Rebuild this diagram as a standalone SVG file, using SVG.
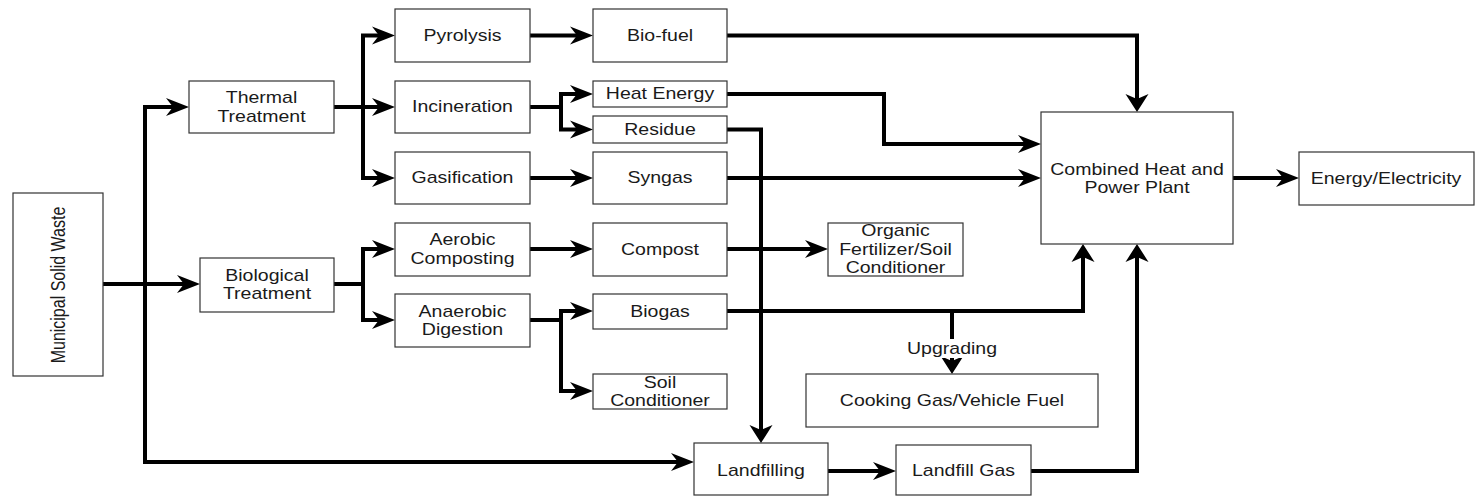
<svg xmlns="http://www.w3.org/2000/svg" width="1475" height="497" viewBox="0 0 1475 497">
<style>
.box{fill:#fff;stroke:#333;stroke-width:1.2}
.t{font-family:"Liberation Sans",Arial,sans-serif;font-size:16px;fill:#1a1a1a;text-anchor:middle;dominant-baseline:central}
.c{fill:none;stroke:#000;stroke-width:4}
.a{marker-end:url(#arrH)}
.v{marker-end:url(#arrV)}
</style>
<defs>
<marker id="arrH" viewBox="-12 -10 25 20" markerWidth="25" markerHeight="20" refX="0" refY="0" markerUnits="userSpaceOnUse" orient="auto">
<path d="M12,0 L-11,-9 L-4,0 L-11,9 Z" fill="#000"/>
</marker>
<marker id="arrV" viewBox="-8 -12 21 24" markerWidth="21" markerHeight="24" refX="0" refY="0" markerUnits="userSpaceOnUse" orient="auto">
<path d="M12,0 L-6,-11.5 L-1,0 L-6,11.5 Z" fill="#000"/>
</marker>
</defs>
<rect width="1475" height="497" fill="#fff"/>
<g id="connectors">
<path class="c a" d="M103,284 H188"/>
<path class="c a" d="M145,284 V107 H177"/>
<path class="c a" d="M145,284 V462 H682"/>
<path class="c" d="M334,107 H363"/>
<path class="c a" d="M363,107 V35.5 H383"/>
<path class="c a" d="M363,107 H383"/>
<path class="c a" d="M363,107 V178 H383"/>
<path class="c a" d="M334,284 H363 V249 H383"/>
<path class="c a" d="M363,284 V320 H383"/>
<path class="c a" d="M530,35.5 H581"/>
<path class="c a" d="M530,107 H561 V94 H581"/>
<path class="c a" d="M561,107 V129.5 H581"/>
<path class="c a" d="M530,178 H581"/>
<path class="c a" d="M530,249 H581"/>
<path class="c a" d="M530,320 H561 V311 H581"/>
<path class="c a" d="M561,320 V391 H581"/>
<path class="c v" d="M727,35.5 H1137 V100"/>
<path class="c a" d="M727,94 H884 V144 H1029"/>
<path class="c a" d="M727,178 H1029"/>
<path class="c v" d="M727,129.5 H761 V431"/>
<path class="c a" d="M727,249 H816"/>
<path class="c v" d="M727,311 H1083 V256"/>
<path class="c v" d="M952,311 V362"/>
<rect x="905" y="339" width="94" height="19" fill="#fff"/>
<text class="t" transform="translate(952,349) scale(1.22,1)">Upgrading</text>
<path class="c a" d="M828,471 H884"/>
<path class="c v" d="M1031,471 H1137 V256"/>
<path class="c a" d="M1233,178 H1287"/>
</g>
<g id="msw"><rect class="box" x="13" y="193" width="90" height="183"/><text class="t" transform="translate(58,285) scale(1.22,1) rotate(-90)">Municipal Solid Waste</text></g>
<g id="thermal"><rect class="box" x="189" y="81" width="145" height="52"/><text class="t" transform="translate(261.5,98) scale(1.22,1)">Thermal</text><text class="t" transform="translate(261.5,117) scale(1.22,1)">Treatment</text></g>
<g id="biological"><rect class="box" x="200" y="258" width="134" height="54"/><text class="t" transform="translate(267,276) scale(1.22,1)">Biological</text><text class="t" transform="translate(267,294) scale(1.22,1)">Treatment</text></g>
<g id="pyrolysis"><rect class="box" x="395" y="9" width="135" height="53"/><text class="t" transform="translate(462.5,35.5) scale(1.22,1)">Pyrolysis</text></g>
<g id="incineration"><rect class="box" x="395" y="81" width="135" height="52"/><text class="t" transform="translate(462.5,107) scale(1.22,1)">Incineration</text></g>
<g id="gasification"><rect class="box" x="395" y="152" width="135" height="52"/><text class="t" transform="translate(462.5,178) scale(1.22,1)">Gasification</text></g>
<g id="aerobic"><rect class="box" x="395" y="223" width="135" height="53"/><text class="t" transform="translate(462.5,240) scale(1.22,1)">Aerobic</text><text class="t" transform="translate(462.5,259) scale(1.22,1)">Composting</text></g>
<g id="anaerobic"><rect class="box" x="395" y="294" width="135" height="53"/><text class="t" transform="translate(462.5,312) scale(1.22,1)">Anaerobic</text><text class="t" transform="translate(462.5,330) scale(1.22,1)">Digestion</text></g>
<g id="biofuel"><rect class="box" x="593" y="9" width="134" height="53"/><text class="t" transform="translate(660,35.5) scale(1.22,1)">Bio-fuel</text></g>
<g id="heat"><rect class="box" x="593" y="81" width="134" height="26"/><text class="t" transform="translate(660,94) scale(1.22,1)">Heat Energy</text></g>
<g id="residue"><rect class="box" x="593" y="116" width="134" height="27"/><text class="t" transform="translate(660,129.5) scale(1.22,1)">Residue</text></g>
<g id="syngas"><rect class="box" x="593" y="152" width="134" height="52"/><text class="t" transform="translate(660,178) scale(1.22,1)">Syngas</text></g>
<g id="compost"><rect class="box" x="593" y="223" width="134" height="53"/><text class="t" transform="translate(660,249.5) scale(1.22,1)">Compost</text></g>
<g id="biogas"><rect class="box" x="593" y="294" width="134" height="35"/><text class="t" transform="translate(660,311.5) scale(1.22,1)">Biogas</text></g>
<g id="soil"><rect class="box" x="593" y="374" width="134" height="35"/><text class="t" transform="translate(660,383) scale(1.22,1)">Soil</text><text class="t" transform="translate(660,401) scale(1.22,1)">Conditioner</text></g>
<g id="organic"><rect class="box" x="828" y="223" width="135" height="53"/><text class="t" transform="translate(895.5,231) scale(1.22,1)">Organic</text><text class="t" transform="translate(895.5,249.5) scale(1.22,1)">Fertilizer/Soil</text><text class="t" transform="translate(895.5,268) scale(1.22,1)">Conditioner</text></g>
<g id="cooking"><rect class="box" x="806" y="374" width="292" height="53"/><text class="t" transform="translate(952,400.5) scale(1.22,1)">Cooking Gas/Vehicle Fuel</text></g>
<g id="landfilling"><rect class="box" x="694" y="443" width="134" height="52"/><text class="t" transform="translate(761,471) scale(1.22,1)">Landfilling</text></g>
<g id="landfillgas"><rect class="box" x="896" y="445" width="135" height="50"/><text class="t" transform="translate(963.5,471) scale(1.22,1)">Landfill Gas</text></g>
<g id="chp"><rect class="box" x="1041" y="112" width="192" height="132"/><text class="t" transform="translate(1137,170) scale(1.22,1)">Combined Heat and</text><text class="t" transform="translate(1137,188) scale(1.22,1)">Power Plant</text></g>
<g id="energy"><rect class="box" x="1299" y="152" width="175" height="53"/><text class="t" transform="translate(1386,178.5) scale(1.22,1)">Energy/Electricity</text></g>
</svg>
